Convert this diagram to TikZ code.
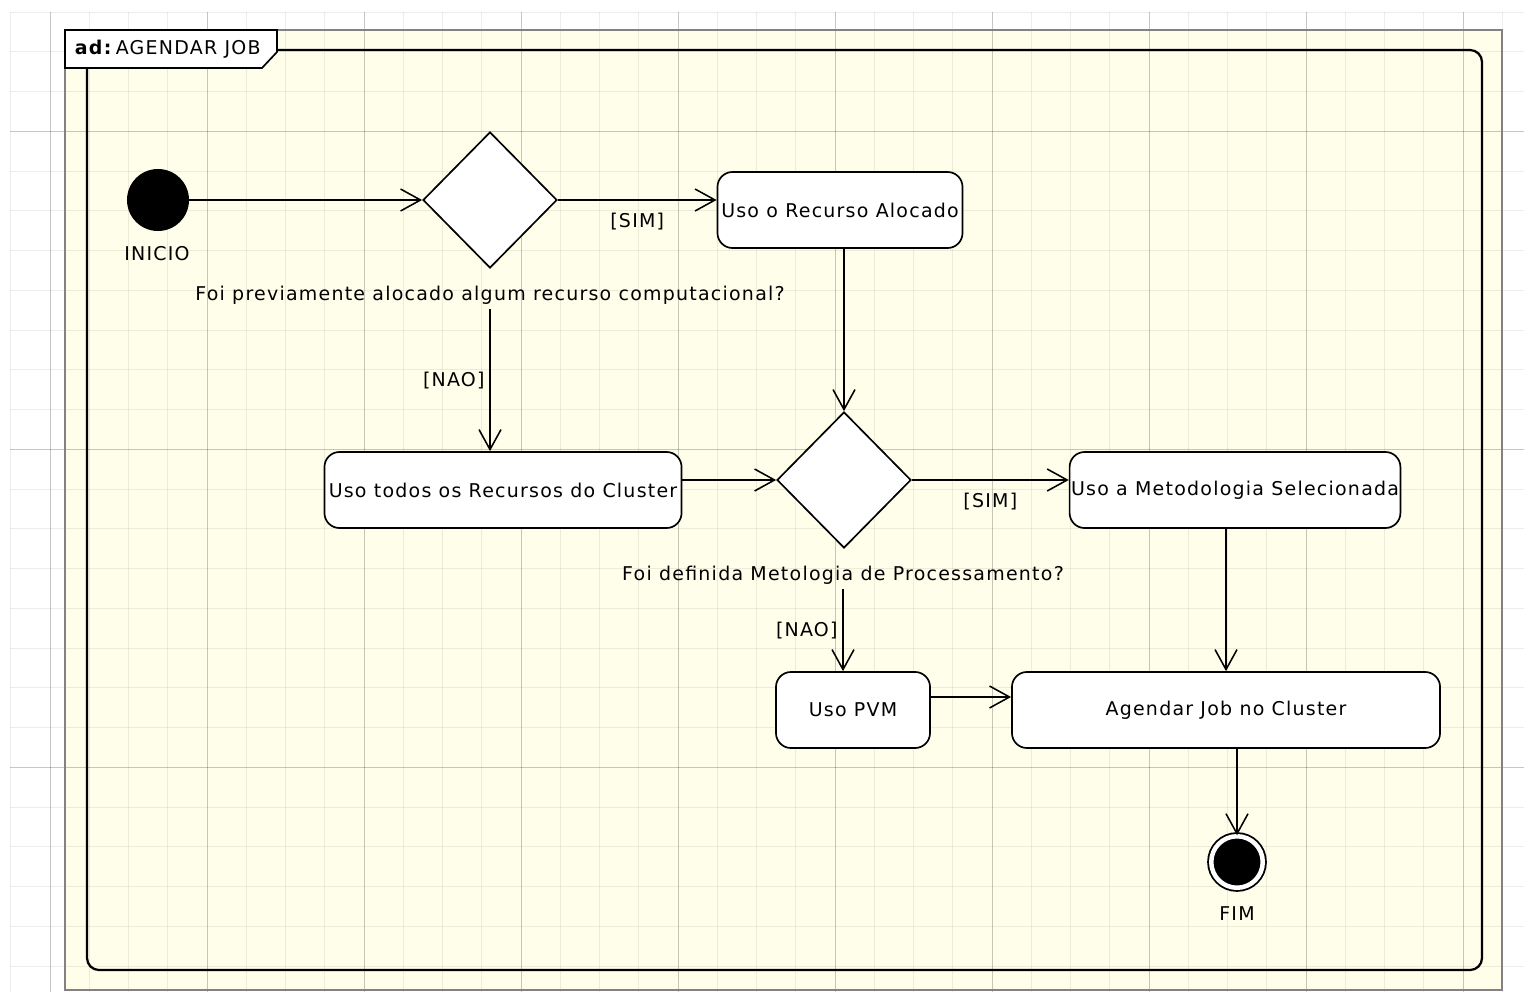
\documentclass[tikz,border=0pt]{standalone}
\usepackage{fontspec}
\setmainfont{DejaVu Sans}[LetterSpace=6.5]
\usetikzlibrary{shapes.geometric,arrows.meta}

\definecolor{framefill}{RGB}{254,254,234}
\definecolor{framegray}{RGB}{130,130,130}

\tikzset{
    minorgrid/.style={draw=black, opacity=0.07, line width=0.6pt},
    majorgrid/.style={draw=black, opacity=0.16, line width=0.7pt},
    actbox/.style={draw, fill=white, rounded corners=0.375cm, line width=1.2pt, minimum height=1.9cm, inner sep=1pt},
    decision/.style={draw, diamond, fill=white, line width=1.2pt, minimum width=3.35cm, minimum height=3.4cm, inner sep=0pt},
    startdot/.style={circle, fill=black, minimum size=1.55cm, inner sep=0pt},
    enddot/.style={circle, draw, fill=black, line width=1.3pt, double=white, double distance=0.1125cm, minimum size=1.2875cm, inner sep=0pt},
    flow/.style={draw, line width=1.1pt, -{Straight Barb[length=0.5cm, width=0.55cm]}}
}

\begin{document}
\begin{tikzpicture}[x=0.025cm, y=-0.025cm, every node/.style={font=\fontsize{13.5}{15}\selectfont}]
    % canvas and grid
    \path[use as bounding box, fill=white] (0,0) rectangle (1524,992);
    \fill[framefill] (65,30) rectangle (1502,990);
    \foreach \k in {0,...,38}
        \draw[minorgrid] ({10.75+39.25*\k},12) -- ({10.75+39.25*\k},992);
    \foreach \k in {0,...,24}
        \draw[minorgrid] (10,{12+39.75*\k}) -- (1524,{12+39.75*\k});
    \foreach \k in {0,...,9}
        \draw[majorgrid] ({50+157*\k},12) -- ({50+157*\k},992);
    \foreach \k in {0,...,2}
        \draw[majorgrid] (10,{131.25+318*\k}) -- (1524,{131.25+318*\k});

    % frame
    \draw[framegray, line width=1.4pt] (65,30) rectangle (1502,990);
    \draw[line width=1.6pt, rounded corners=0.3cm] (87,50) rectangle (1482,970);
    \draw[fill=white, line width=1.2pt] (65,30) -- (277,30) -- (277,52) -- (262,68) -- (65,68) -- cycle;
    \node[anchor=west] (titulo) at (70,49) {\textbf{ad:}\,AGENDAR JOB};

    % activities
    \node[startdot] (inicio) at (158,200) {};
    \node (inicionome) at (157,254) {INICIO};
    \node[decision] (foi1) at (490,200) {};
    \node (pergunta1) at (490,295) {Foi previamente alocado algum recurso computacional?};
    \node[actbox, minimum width=6.125cm] (alocado) at (840,210) {Uso o Recurso Alocado};
    \node[actbox, minimum width=8.925cm] (todos) at (503,490) {Uso todos os Recursos do Cluster};
    \node[decision] (foi2) at (844,480) {};
    \node (pergunta2) at (843,575) {Foi definida Metologia de Processamento?};
    \node[actbox, minimum width=8.25cm] (metodo) at (1235,490) {Uso a Metodologia Selecionada};
    \node[actbox, minimum width=3.85cm] (pvm) at (853,710) {Uso PVM};
    \node[actbox, minimum width=10.7cm] (agendar) at (1226,710) {Agendar Job no Cluster};
    \node[enddot] (fim) at (1237,862) {};
    \node (fimnome) at (1237,914) {FIM};

    % flows
    \draw[flow] (inicio) -- (foi1);
    \draw[flow] (foi1.east) -- (foi1.east -| alocado.west) node[midway, below=0.2cm] (sim1) {[SIM]};
    \draw[flow] (pergunta1.south) -- (pergunta1.south |- todos.north) node[midway, left] (nao1) {[NAO]};
    \draw[flow] (alocado.south -| foi2) -- (foi2.north);
    \draw[flow] (todos.east |- foi2) -- (foi2.west);
    \draw[flow] (foi2.east) -- (foi2.east -| metodo.west) node[midway, below=0.2cm] (sim2) {[SIM]};
    \draw[flow] (pergunta2.south) -- (pergunta2.south |- pvm.north) node[midway, left] (nao2) {[NAO]};
    \draw[flow] ([yshift=0.325cm]pvm.east) -- ([yshift=0.325cm]pvm.east -| agendar.west);
    \draw[flow] (metodo.south -| agendar) -- (agendar.north);
    \draw[flow] (agendar.south -| fim) -- (fim.north);
\end{tikzpicture}
\end{document}
